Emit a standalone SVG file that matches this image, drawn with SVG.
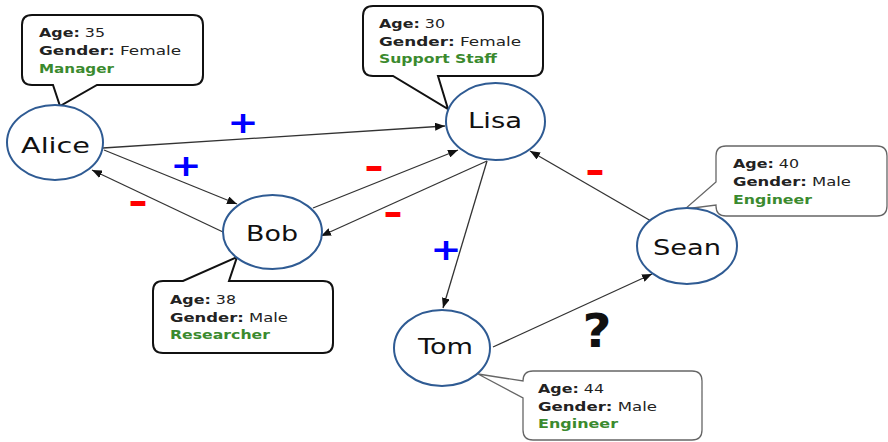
<svg xmlns="http://www.w3.org/2000/svg" width="888" height="442" viewBox="0 0 888 442">
<style>
.node{fill:#fff;stroke:#2f5b93;stroke-width:2}
.lbl{font-family:"DejaVu Sans",Verdana,sans-serif;font-size:22px;fill:#111}
.call{fill:#fff;stroke:#111;stroke-width:2;stroke-linejoin:miter}
.call2{fill:#fff;stroke:#666;stroke-width:1.3}
.ct{font-family:"DejaVu Sans",Verdana,sans-serif;font-size:13px;fill:#222}
.b{font-weight:bold}
.g{fill:#3b8a2e;font-weight:bold}
.edge{stroke:#333;stroke-width:1.3;fill:none;marker-end:url(#ah)}
.plus{font-family:"DejaVu Sans",sans-serif;font-weight:bold;font-size:30px;fill:#0000ff}
.minus{font-family:"DejaVu Sans",sans-serif;font-weight:bold;font-size:36px;fill:#ff0000}
.q{font-family:"DejaVu Sans",sans-serif;font-weight:bold;font-size:46px;fill:#111}
</style>
<defs>
<marker id="ah" markerWidth="10" markerHeight="8" refX="10" refY="4" orient="auto" markerUnits="userSpaceOnUse">
<path d="M0,0 L10,4 L0,8 Z" fill="#111"/>
</marker>
</defs>
<rect width="888" height="442" fill="#fff"/>
<g id="connectors">
<line class="edge" x1="103" y1="148" x2="445" y2="126"/>
<line class="edge" x1="104" y1="150" x2="237" y2="204"/>
<line class="edge" x1="223" y1="232" x2="92" y2="170"/>
<line class="edge" x1="313" y1="208" x2="458" y2="150"/>
<line class="edge" x1="487" y1="161" x2="321" y2="236"/>
<line class="edge" x1="487" y1="161" x2="443" y2="308"/>
<line class="edge" x1="493" y1="347" x2="652" y2="274"/>
<line class="edge" x1="651" y1="221" x2="530" y2="151"/>
<text class="plus" x="243" y="133" text-anchor="middle" textLength="31" lengthAdjust="spacingAndGlyphs">+</text>
<text class="plus" x="186" y="176" text-anchor="middle" textLength="31" lengthAdjust="spacingAndGlyphs">+</text>
<text class="plus" x="446" y="260" text-anchor="middle" textLength="31" lengthAdjust="spacingAndGlyphs">+</text>
<text class="minus" x="138" y="214" text-anchor="middle" textLength="20" lengthAdjust="spacingAndGlyphs">-</text>
<text class="minus" x="374" y="179" text-anchor="middle" textLength="20" lengthAdjust="spacingAndGlyphs">-</text>
<text class="minus" x="393" y="225" text-anchor="middle" textLength="20" lengthAdjust="spacingAndGlyphs">-</text>
<text class="minus" x="595" y="183" text-anchor="middle" textLength="20" lengthAdjust="spacingAndGlyphs">-</text>
<text class="q" x="597" y="347" text-anchor="middle" textLength="29" lengthAdjust="spacingAndGlyphs">?</text>
</g>
<g id="alice">
<path class="call" d="M32,15 H193 Q203,15 203,25 V75 Q203,85 193,85 H97 L60,106 L53,85 H32 Q22,85 22,75 V25 Q22,15 32,15 Z"/>
<text class="ct" x="39" y="37" textLength="66" lengthAdjust="spacingAndGlyphs"><tspan class="b">Age:</tspan> 35</text>
<text class="ct" x="39" y="55" textLength="142" lengthAdjust="spacingAndGlyphs"><tspan class="b">Gender:</tspan> Female</text>
<text class="ct g" x="39" y="73" textLength="75" lengthAdjust="spacingAndGlyphs">Manager</text>
<ellipse class="node" cx="55" cy="142.5" rx="48" ry="37.5"/>
<text class="lbl" x="21" y="153" textLength="69" lengthAdjust="spacingAndGlyphs">Alice</text>
</g>
<g id="lisa">
<path class="call" d="M373,6 H533 Q543,6 543,16 V66 Q543,76 533,76 H438 L448,109 L393,76 H373 Q363,76 363,66 V16 Q363,6 373,6 Z"/>
<text class="ct" x="379" y="28" textLength="66" lengthAdjust="spacingAndGlyphs"><tspan class="b">Age:</tspan> 30</text>
<text class="ct" x="379" y="46" textLength="142" lengthAdjust="spacingAndGlyphs"><tspan class="b">Gender:</tspan> Female</text>
<text class="ct g" x="379" y="63" textLength="118" lengthAdjust="spacingAndGlyphs">Support Staff</text>
<ellipse class="node" cx="495.5" cy="121.5" rx="49.5" ry="38.5"/>
<text class="lbl" x="468" y="128" textLength="54" lengthAdjust="spacingAndGlyphs">Lisa</text>
</g>
<g id="bob">
<path class="call" d="M163,281 H183 L237,257 L229,281 H323 Q333,281 333,291 V343 Q333,353 323,353 H163 Q153,353 153,343 V291 Q153,281 163,281 Z"/>
<text class="ct" x="170" y="304" textLength="66" lengthAdjust="spacingAndGlyphs"><tspan class="b">Age:</tspan> 38</text>
<text class="ct" x="170" y="322" textLength="118" lengthAdjust="spacingAndGlyphs"><tspan class="b">Gender:</tspan> Male</text>
<text class="ct g" x="170" y="339" textLength="100" lengthAdjust="spacingAndGlyphs">Researcher</text>
<ellipse class="node" cx="272.5" cy="232" rx="49.5" ry="37"/>
<text class="lbl" x="246" y="241" textLength="52" lengthAdjust="spacingAndGlyphs">Bob</text>
</g>
<g id="tom">
<path class="call2" d="M533,371 H692 Q702,371 702,381 V430 Q702,440 692,440 H533 Q523,440 523,430 V398 L478,374 L523,381 Q523,371 533,371 Z"/>
<text class="ct" x="538" y="393" textLength="66" lengthAdjust="spacingAndGlyphs"><tspan class="b">Age:</tspan> 44</text>
<text class="ct" x="538" y="411" textLength="119" lengthAdjust="spacingAndGlyphs"><tspan class="b">Gender:</tspan> Male</text>
<text class="ct g" x="538" y="428" textLength="80" lengthAdjust="spacingAndGlyphs">Engineer</text>
<ellipse class="node" cx="442" cy="348" rx="48" ry="38"/>
<text class="lbl" x="418" y="354" textLength="55" lengthAdjust="spacingAndGlyphs">Tom</text>
</g>
<g id="sean">
<path class="call2" d="M726,146 H877 Q887,146 887,156 V206 Q887,216 877,216 H726 Q716,216 716,206 V205 L685,209 L716,182 V156 Q716,146 726,146 Z"/>
<text class="ct" x="733" y="168" textLength="66" lengthAdjust="spacingAndGlyphs"><tspan class="b">Age:</tspan> 40</text>
<text class="ct" x="733" y="186" textLength="118" lengthAdjust="spacingAndGlyphs"><tspan class="b">Gender:</tspan> Male</text>
<text class="ct g" x="733" y="204" textLength="79" lengthAdjust="spacingAndGlyphs">Engineer</text>
<ellipse class="node" cx="687" cy="246" rx="50" ry="38"/>
<text class="lbl" x="653" y="255" textLength="68" lengthAdjust="spacingAndGlyphs">Sean</text>
</g>
</svg>
